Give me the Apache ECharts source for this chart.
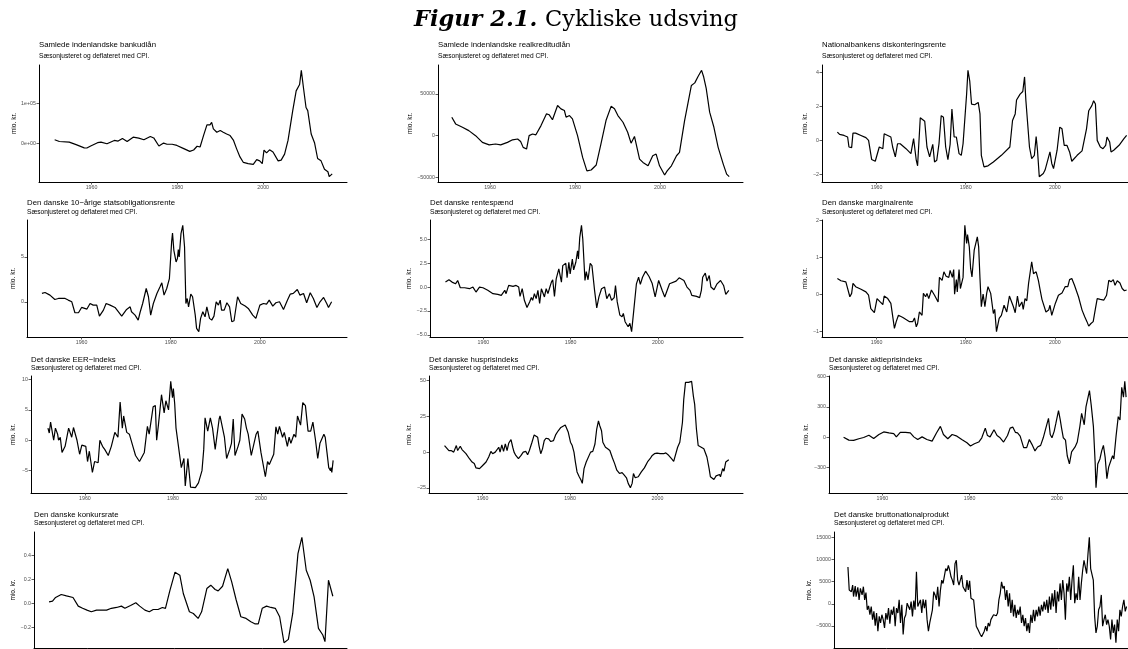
<!DOCTYPE html>
<html>
<head>
<meta charset="utf-8">
<script src="https://cdn.jsdelivr.net/npm/echarts@6/dist/echarts.min.js"></script>
<style>
  html, body { margin: 0; padding: 0; background: #ffffff; }
  #chart { width: 1128px; height: 649px; }
</style>
</head>
<body>
<div id="chart"></div>
<script>
// ---- Series: [year, deviation from trend] ----
const bankudlaan = [[1951.4,8300],[1952.5,4000],[1954.8,2500],[1956.4,-4000],[1958.3,-12000],[1958.9,-12500],[1959.8,-7500],[1961.4,1000],[1962.2,2500],[1963.6,-1700],[1965.3,6700],[1966.2,5000],[1967.2,11700],[1968.3,4000],[1969.7,15000],[1971.0,12500],[1972.2,8300],[1973.7,16700],[1974.5,13000],[1975.7,-7500],[1976.8,0],[1977.6,-3000],[1978.8,-3000],[1979.9,-6000],[1981.5,-14000],[1982.9,-21000],[1983.8,-17500],[1984.6,-8000],[1985.3,-10000],[1986.1,19000],[1986.9,46000],[1987.6,46000],[1988.0,52500],[1988.4,36000],[1989.2,27500],[1990.0,31700],[1990.7,27500],[1991.5,23000],[1992.3,19000],[1993.1,6700],[1993.8,-14000],[1994.6,-35000],[1995.4,-49000],[1996.5,-52000],[1997.7,-54000],[1998.5,-42000],[1999.2,-45000],[1999.8,-52000],[2000.2,-18000],[2000.8,-25000],[2001.5,-17000],[2002.3,-22500],[2003.5,-45000],[2004.2,-43000],[2005.0,-28000],[2005.8,6700],[2006.9,82000],[2007.7,132000],[2008.5,148000],[2008.9,184000],[2009.4,140000],[2010.0,90000],[2010.4,82000],[2011.2,23000],[2012.0,0],[2012.7,-39000],[2013.5,-45000],[2014.3,-66000],[2015.1,-72500],[2015.4,-85000],[2016.1,-78000]];

const realkreditudlaan = [[1951.0,22000],[1951.9,14000],[1953.5,10000],[1955.0,6000],[1956.6,0],[1958.2,-8000],[1959.8,-11000],[1961.3,-10000],[1962.5,-11000],[1962.9,-13000],[1964.1,-8000],[1965.3,-5000],[1966.5,-4000],[1967.2,-7000],[1967.8,-14000],[1968.6,-16000],[1969.2,0],[1970.0,2000],[1970.8,1000],[1972.0,12000],[1973.3,26000],[1973.9,25000],[1974.7,19000],[1975.9,36000],[1976.7,32000],[1977.5,30000],[1977.9,22000],[1978.7,24000],[1979.4,20000],[1980.6,0],[1981.8,-26000],[1982.8,-42000],[1983.8,-41000],[1985.0,-35000],[1986.1,-10000],[1987.3,18000],[1988.5,35000],[1989.3,32000],[1990.1,24000],[1991.3,16000],[1992.4,4000],[1993.2,-9000],[1994.0,-1000],[1995.2,-28000],[1996.0,-32000],[1997.2,-36000],[1998.3,-24000],[1999.1,-22000],[1999.9,-36000],[2001.1,-47000],[2001.7,-42000],[2002.7,-36000],[2003.9,-24000],[2004.6,-20000],[2005.8,18000],[2007.4,60000],[2008.2,63000],[2009.0,71000],[2009.8,78000],[2010.3,70000],[2010.9,56000],[2011.7,28000],[2012.7,10000],[2013.7,-14000],[2014.9,-34000],[2015.7,-46000],[2016.3,-49000]];

const diskontorente = [[1951.2,0.49],[1951.7,0.35],[1952.7,0.29],[1953.5,0.2],[1953.8,-0.39],[1954.4,-0.43],[1954.7,0.43],[1955.3,0.43],[1956.5,0.29],[1957.6,0.16],[1958.2,0],[1958.9,-1.13],[1959.7,-1.23],[1960.6,-0.39],[1961.4,-0.49],[1961.7,0.39],[1962.5,0.29],[1963.2,0.2],[1963.6,-0.39],[1964.2,-0.97],[1964.7,-0.2],[1965.3,-0.2],[1966.6,-0.49],[1967.7,-0.78],[1968.3,0.1],[1968.9,-1.17],[1969.2,-1.5],[1969.8,1.33],[1970.8,1.13],[1971.3,-0.39],[1971.9,-0.97],[1972.3,-1.07],[1972.6,-0.23],[1973.0,-1.27],[1973.5,-1.17],[1974.0,-0.2],[1974.5,1.46],[1975.0,1.36],[1975.5,-0.39],[1976.0,-1.13],[1976.5,-0.23],[1976.9,1.85],[1977.4,0.2],[1977.9,0.2],[1978.5,-0.78],[1979.0,-0.88],[1979.4,-0.2],[1980.2,2.73],[1980.5,4.13],[1980.9,3.5],[1981.3,2.14],[1982.0,2.1],[1982.8,2.24],[1983.2,1.56],[1983.5,-0.88],[1984.1,-1.56],[1985.0,-1.5],[1986.2,-1.27],[1988.0,-0.88],[1989.9,-0.39],[1990.5,1.17],[1991.1,1.56],[1991.4,2.38],[1991.8,2.3],[1992.2,2.73],[1992.8,2.88],[1993.2,3.74],[1993.5,2.34],[1993.8,2.38],[1994.3,-0.39],[1994.8,-1.07],[1995.4,-0.88],[1995.8,0.23],[1996.1,-0.58],[1996.5,-2.14],[1997.4,-1.95],[1997.8,-1.75],[1998.6,-0.97],[1998.9,-0.68],[1999.3,-1.36],[1999.7,-1.66],[2000.5,-0.58],[2001.1,0.78],[2001.6,0.68],[2002.1,-0.29],[2002.7,-0.29],[2003.3,-0.68],[2003.8,-1.23],[2005.0,-0.88],[2006.1,-0.62],[2007.1,0.68],[2007.6,1.75],[2008.3,2.05],[2008.7,2.34],[2009.1,2.14],[2009.5,0],[2010.2,-0.39],[2010.8,-0.49],[2011.4,-0.29],[2011.7,0.2],[2012.3,-0.1],[2012.6,-0.68],[2013.2,-0.58],[2014.4,-0.29],[2015.5,0.1],[2016.1,0.29]];

const obligationsrente = [[1951.1,0.93],[1951.8,1.04],[1952.9,0.74],[1954.0,0.26],[1954.8,0.37],[1955.2,0.56],[1956.3,0.37],[1957.0,0.19],[1957.8,0],[1958.5,-1.22],[1959.3,-1.22],[1960.0,-0.63],[1961.2,-0.81],[1961.9,-0.19],[1962.6,-0.37],[1963.4,-0.37],[1964.0,-1.6],[1964.9,-0.93],[1965.5,-0.19],[1966.4,-0.37],[1967.5,-0.63],[1969.0,-1.6],[1970.1,-0.85],[1970.9,-0.56],[1971.2,-1.11],[1972.0,-1.48],[1972.7,-2.04],[1973.1,-1.22],[1973.7,-0.19],[1974.5,1.48],[1975.0,0.56],[1975.5,-1.48],[1976.1,-0.19],[1976.9,0.93],[1977.6,1.67],[1978.0,2.11],[1978.5,0.74],[1979.1,1.48],[1979.7,2.59],[1980.2,6.67],[1980.4,7.67],[1980.7,5.74],[1981.2,4.44],[1981.5,4.81],[1981.7,5.81],[1981.9,5.0],[1982.3,7.59],[1982.7,8.52],[1983.1,6.11],[1983.4,-0.19],[1983.7,0.37],[1984.0,-0.56],[1984.5,0.85],[1984.9,0.56],[1985.5,-1.48],[1985.8,-2.96],[1986.3,-3.33],[1986.7,-1.85],[1987.2,-1.11],[1987.7,-1.67],[1988.1,-0.56],[1988.7,-1.85],[1989.2,-2.04],[1989.7,-1.6],[1990.2,0],[1990.7,-0.37],[1991.1,0.19],[1991.4,-0.93],[1992.0,-0.93],[1992.6,-0.11],[1993.2,-0.56],[1993.7,-2.22],[1994.2,-2.11],[1995.0,0.56],[1995.7,-0.19],[1996.7,-0.48],[1997.4,-0.74],[1998.4,-1.48],[1999.1,-1.85],[2000.0,-0.37],[2000.8,-0.19],[2001.5,-0.26],[2002.1,0.19],[2002.9,-0.48],[2003.6,-0.11],[2004.4,0],[2005.3,-0.85],[2006.2,0.19],[2006.8,0.85],[2007.5,0.93],[2008.4,1.37],[2009.0,0.74],[2009.8,0.93],[2010.5,-0.11],[2011.3,1.0],[2012.0,0.37],[2012.8,-0.63],[2013.5,0],[2014.3,0.48],[2015.0,-0.19],[2015.4,-0.63],[2016.1,0]];

const rentespaend = [[1951.3,0.52],[1952.1,0.76],[1952.8,0.52],[1953.6,0.34],[1954.1,0.69],[1954.7,-0.07],[1955.7,-0.07],[1956.8,-0.17],[1957.6,0],[1958.3,-0.52],[1959.1,0],[1959.9,-0.07],[1961.0,-0.34],[1962.2,-0.69],[1963.3,-0.76],[1964.1,-0.86],[1964.9,-0.34],[1965.2,-0.69],[1965.8,0.17],[1966.8,0.07],[1967.5,0.17],[1968.1,0],[1968.4,-0.97],[1968.9,-0.17],[1969.4,-1.38],[1970.0,-2.14],[1970.6,-1.55],[1971.0,-1.1],[1971.3,-1.38],[1971.7,-0.69],[1972.1,-1.21],[1972.5,-0.34],[1972.9,-1.72],[1973.3,-0.17],[1973.7,0],[1974.0,-1.03],[1974.4,-0.17],[1974.8,-0.69],[1975.2,-0.07],[1975.6,0.52],[1975.9,0.76],[1976.3,-0.97],[1976.7,0.86],[1977.3,1.9],[1977.9,0.52],[1978.2,2.24],[1978.9,2.48],[1979.2,0.97],[1979.6,2.59],[1979.9,1.38],[1980.4,2.93],[1980.7,1.79],[1981.2,2.59],[1981.6,3.79],[1981.8,2.93],[1982.1,5.17],[1982.5,6.45],[1982.8,5.0],[1983.3,0.69],[1983.6,1.62],[1984.0,0.76],[1984.5,2.48],[1984.9,2.24],[1985.5,-0.34],[1986.0,-2.17],[1986.5,-1.03],[1987.1,-0.17],[1987.4,-0.28],[1987.8,0],[1988.3,-1.21],[1988.9,-0.69],[1989.4,-1.38],[1990.0,-1.1],[1990.3,0.17],[1990.7,-1.55],[1991.3,-2.93],[1991.8,-3.1],[1992.1,-2.76],[1992.5,-3.62],[1992.9,-3.45],[1993.2,-4.14],[1993.6,-3.79],[1994.0,-4.66],[1994.5,-2.41],[1995.1,0.34],[1995.6,1.03],[1996.0,0.28],[1996.5,1.03],[1997.2,1.66],[1998.0,1.1],[1998.7,0.41],[1999.4,-1.03],[2000.2,0.69],[2000.5,0.76],[2001.0,-0.34],[2001.6,-1.03],[2002.7,0.34],[2003.1,0.17],[2004.2,0.62],[2004.9,0.97],[2006.0,0.69],[2006.7,0],[2007.4,-0.34],[2007.8,-0.86],[2008.9,-0.97],[2009.6,-1.1],[2010.0,-0.34],[2010.3,1.03],[2010.9,1.45],[2011.3,0.62],[2011.8,1.21],[2012.2,0],[2012.9,-0.28],[2013.6,0.34],[2014.4,0.69],[2015.1,0.17],[2015.6,-0.76],[2016.3,-0.34]];

const marginalrente = [[1951.2,0.43],[1952.0,0.37],[1953.1,0.34],[1953.5,0.37],[1954.0,-0.06],[1954.4,0.03],[1954.7,0.3],[1955.3,0.21],[1956.5,0.14],[1957.6,0.07],[1958.2,-0.02],[1958.7,-0.38],[1959.5,-0.49],[1960.1,-0.11],[1960.8,-0.2],[1961.4,-0.27],[1961.7,-0.04],[1962.5,-0.11],[1963.2,-0.24],[1964.0,-0.91],[1964.4,-0.73],[1964.5,-0.78],[1964.9,-0.56],[1965.9,-0.62],[1967.4,-0.73],[1968.1,-0.73],[1968.5,-0.63],[1968.9,-0.87],[1969.2,-0.78],[1969.6,-0.47],[1970.2,-0.56],[1970.5,0.03],[1971.0,-0.06],[1971.3,0.03],[1971.7,-0.11],[1972.3,0.12],[1973.0,-0.02],[1973.8,-0.2],[1974.1,0.46],[1974.7,0.38],[1975.1,0.61],[1975.6,0.49],[1976.2,0.46],[1976.5,0.65],[1977.0,0.46],[1977.3,0.67],[1977.5,0.01],[1977.9,0.4],[1978.1,0.07],[1978.5,0.67],[1978.8,0.16],[1979.4,0.46],[1979.8,1.86],[1980.2,1.37],[1980.4,1.61],[1980.8,1.28],[1981.1,0.7],[1981.4,0.47],[1981.9,1.19],[1982.3,1.24],[1982.6,1.55],[1982.9,1.28],[1983.2,0.43],[1983.5,-0.33],[1983.9,0.01],[1984.3,-0.33],[1984.7,0.03],[1985.0,0.21],[1985.6,0.03],[1986.2,-0.51],[1986.5,-0.4],[1986.9,-1.0],[1987.5,-0.64],[1988.0,-0.56],[1988.6,-0.29],[1989.2,-0.47],[1989.8,-0.04],[1990.3,-0.2],[1990.7,-0.33],[1991.1,-0.49],[1991.6,-0.04],[1992.0,-0.33],[1992.6,-0.2],[1992.9,-0.4],[1993.3,-0.11],[1993.7,-0.17],[1994.1,0.3],[1994.4,0.34],[1994.8,0.88],[1995.2,0.56],[1995.8,0.61],[1996.3,0.38],[1996.7,0.12],[1997.1,-0.13],[1997.4,-0.15],[1998.0,-0.47],[1998.6,-0.42],[1998.9,-0.29],[1999.3,-0.56],[2000.1,-0.24],[2000.8,-0.02],[2001.6,0.04],[2002.3,0.21],[2002.9,0.21],[2003.3,0.4],[2003.8,0.43],[2004.4,0.25],[2005.3,-0.06],[2006.1,-0.42],[2006.7,-0.6],[2007.2,-0.73],[2007.6,-0.85],[2008.1,-0.78],[2008.6,-0.73],[2009.1,-0.38],[2009.5,-0.11],[2010.2,-0.13],[2011.0,-0.15],[2011.6,-0.02],[2012.1,0.38],[2012.6,0.34],[2013.1,0.4],[2013.5,0.25],[2014.0,0.37],[2014.6,0.31],[2015.1,0.16],[2015.6,0.1],[2016.1,0.12]];

const eerIndeks = [[1951.6,2.0],[1951.9,1.2],[1952.2,3.0],[1952.9,0],[1953.3,2.0],[1953.8,1.0],[1954.0,0],[1954.4,0.5],[1954.8,-2.0],[1955.5,-1.0],[1956.3,2.0],[1956.7,1.8],[1957.0,0.5],[1957.4,2.1],[1958.2,0],[1958.8,-2.3],[1959.3,-0.8],[1959.7,-0.5],[1960.2,-1.0],[1960.6,-3.5],[1961.0,-1.8],[1961.3,-2.0],[1961.7,-5.3],[1962.2,-3.5],[1963.0,-3.7],[1963.4,0],[1964.0,-1.0],[1964.5,-1.5],[1965.3,-2.5],[1966.0,-1.0],[1966.8,1.3],[1967.5,0.5],[1968.0,6.3],[1968.5,2.0],[1968.8,4.0],[1969.5,1.3],[1970.1,1.0],[1970.9,-1.0],[1971.5,-2.5],[1972.4,-3.5],[1972.7,-3.7],[1973.5,-2.0],[1974.2,2.3],[1974.6,1.0],[1975.5,5.5],[1976.0,5.7],[1976.3,0],[1976.7,2.5],[1977.4,7.5],[1978.0,4.5],[1978.4,6.5],[1979.0,5.0],[1979.5,9.7],[1979.9,7.0],[1980.1,8.5],[1980.4,6.0],[1980.7,2.0],[1981.1,2.0],[1981.9,-4.5],[1982.5,-3.0],[1982.8,-7.5],[1983.4,-3.0],[1984.0,-7.7],[1985.1,-7.8],[1985.8,-7.0],[1986.6,-5.0],[1987.0,-1.5],[1987.3,3.7],[1987.9,1.5],[1988.5,3.7],[1989.0,2.0],[1989.6,-1.5],[1990.5,3.5],[1990.7,4.0],[1991.7,0.5],[1992.2,-3.0],[1992.9,-1.5],[1993.3,-0.5],[1993.7,3.5],[1994.1,-2.5],[1994.8,-1.0],[1995.2,0],[1995.7,4.3],[1996.3,3.5],[1996.7,2.0],[1997.1,1.0],[1997.8,-2.5],[1998.9,1.0],[1999.3,1.5],[2000.0,-2.0],[2001.0,-6.0],[2001.5,-3.5],[2001.9,-4.0],[2002.9,-2.3],[2003.4,2.2],[2003.8,1.0],[2004.2,2.3],[2004.9,0.5],[2005.3,1.3],[2006.0,-1.0],[2006.4,0.5],[2006.8,-0.5],[2007.5,1.0],[2007.9,0.5],[2008.3,4.0],[2009.0,2.5],[2009.5,6.2],[2010.1,5.7],[2010.7,1.5],[2011.3,1.5],[2011.8,3.0],[2012.4,0],[2012.9,-3.0],[2013.4,-0.5],[2013.7,-0.5],[2014.3,1.0],[2014.6,0.5],[2015.0,-2.0],[2015.4,-4.5],[2015.8,-5.0],[2015.9,-4.5],[2016.1,-5.3],[2016.4,-3.3]];

const husprisindeks = [[1951.3,4.6],[1951.7,5.1],[1952.3,1.1],[1952.8,1.1],[1953.4,0],[1954.0,4.6],[1954.3,1.1],[1954.9,4.1],[1955.3,1.8],[1955.6,2.8],[1956.2,-1.1],[1957.0,-4.6],[1957.6,-6.9],[1958.1,-8.0],[1958.5,-11.0],[1959.3,-11.5],[1959.9,-9.7],[1960.2,-9.2],[1960.8,-6.9],[1961.4,-3.4],[1961.9,0.5],[1962.3,-1.1],[1962.9,0],[1963.2,-1.1],[1963.7,3.4],[1964.0,0],[1964.4,5.1],[1964.8,0.5],[1965.2,5.7],[1965.6,1.1],[1966.0,6.4],[1966.5,8.7],[1966.9,3.4],[1967.2,0],[1967.6,-2.3],[1968.2,-4.6],[1968.8,-2.3],[1969.3,0],[1969.9,0.5],[1970.3,-1.8],[1970.7,1.1],[1971.3,6.9],[1971.8,12.0],[1972.2,12.6],[1972.6,10.3],[1972.9,4.6],[1973.3,-1.1],[1973.7,2.3],[1974.1,8.0],[1974.5,9.7],[1975.1,9.2],[1975.6,7.4],[1976.2,8.0],[1976.7,12.0],[1977.3,14.9],[1977.9,17.2],[1978.3,16.1],[1978.9,18.9],[1979.2,19.5],[1979.6,13.8],[1980.1,6.9],[1980.5,4.6],[1980.9,0],[1981.2,-6.4],[1981.6,-13.8],[1982.1,-17.2],[1982.5,-19.5],[1982.8,-21.8],[1983.2,-11.5],[1983.7,-6.9],[1984.1,-6.4],[1984.7,0],[1985.2,0.5],[1985.7,5.7],[1986.1,16.1],[1986.5,21.8],[1986.8,18.4],[1987.2,14.9],[1987.5,6.9],[1988.1,3.4],[1988.6,2.3],[1989.1,1.1],[1989.7,-4.1],[1990.2,-8.0],[1990.7,-12.6],[1991.3,-14.9],[1991.9,-14.3],[1992.4,-16.1],[1992.9,-17.9],[1993.3,-21.8],[1993.8,-24.8],[1994.2,-21.8],[1994.5,-14.9],[1994.9,-17.9],[1995.2,-19.0],[1995.6,-17.2],[1996.3,-13.8],[1997.0,-11.0],[1997.8,-6.4],[1998.3,-4.6],[1998.8,-2.3],[1999.3,-1.1],[1999.9,-0.7],[2000.6,-1.1],[2001.0,-0.5],[2001.4,-1.1],[2001.9,-0.5],[2002.4,-1.8],[2003.2,-4.6],[2003.7,-6.4],[2004.1,-5.7],[2004.6,3.4],[2005.1,6.9],[2005.7,20.7],[2006.0,36.8],[2006.4,48.7],[2006.7,47.8],[2007.1,48.7],[2007.5,48.3],[2007.8,49.4],[2008.2,39.1],[2008.5,33.3],[2008.9,16.1],[2009.3,4.6],[2009.6,4.1],[2010.0,3.4],[2010.6,2.3],[2010.8,3.0],[2011.3,-3.4],[2011.8,-11.5],[2012.1,-17.2],[2012.9,-19.1],[2013.4,-16.6],[2013.7,-17.9],[2014.2,-15.6],[2014.4,-17.2],[2014.9,-11.5],[2015.2,-13.3],[2015.6,-6.9],[2015.9,-7.6],[2016.3,-5.3]];

const aktieprisindeks = [[1951.1,0],[1952.3,-29],[1953.4,-32],[1954.6,-16],[1955.7,-3],[1956.9,19],[1958.0,-13],[1959.2,26],[1960.3,52],[1961.5,42],[1962.6,36],[1963.2,3],[1964.1,48],[1965.3,48],[1966.4,42],[1967.2,3],[1968.1,-23],[1969.1,3],[1970.2,-23],[1971.4,-39],[1972.4,42],[1973.3,107],[1974.0,26],[1975.0,-16],[1976.0,26],[1977.1,10],[1978.2,-23],[1979.4,-55],[1980.2,-87],[1981.1,-65],[1982.1,-48],[1982.8,-6],[1983.6,90],[1984.1,16],[1984.7,3],[1985.6,74],[1986.3,16],[1987.0,-6],[1987.8,-48],[1988.7,16],[1989.3,90],[1989.9,100],[1990.5,48],[1991.0,42],[1991.6,10],[1992.4,-103],[1993.1,-103],[1993.7,-23],[1994.3,-71],[1995.0,-136],[1995.6,-97],[1996.3,-81],[1996.9,-6],[1997.6,107],[1998.1,187],[1998.5,26],[1998.9,-6],[1999.4,58],[1999.8,139],[2000.4,262],[2000.8,171],[2001.1,90],[2001.5,-6],[2002.0,-29],[2002.4,-184],[2002.9,-265],[2003.4,-145],[2004.2,-97],[2004.7,-48],[2005.3,107],[2005.7,236],[2006.1,236],[2006.3,123],[2006.7,300],[2007.5,462],[2007.9,317],[2008.4,107],[2008.8,-249],[2009.0,-500],[2009.4,-265],[2009.9,-216],[2010.3,-136],[2010.7,-81],[2011.1,-200],[2011.5,-410],[2011.9,-297],[2012.4,-233],[2012.8,-184],[2013.1,-216],[2013.6,10],[2014.1,203],[2014.5,171],[2014.9,494],[2015.3,397],[2015.6,553],[2015.9,397]];

const konkursrate = [[1951.2,0.014],[1952.0,0.02],[1952.7,0.05],[1954.0,0.075],[1955.2,0.063],[1956.7,0.05],[1957.9,-0.022],[1958.9,-0.04],[1959.9,-0.055],[1960.9,-0.069],[1962.1,-0.055],[1963.2,-0.055],[1964.4,-0.055],[1965.5,-0.04],[1966.7,-0.033],[1967.8,-0.022],[1968.6,-0.04],[1969.9,-0.017],[1971.1,0.006],[1972.0,-0.022],[1973.2,-0.055],[1974.2,-0.069],[1975.1,-0.05],[1976.2,-0.05],[1977.2,-0.033],[1977.9,-0.04],[1978.9,0.105],[1980.1,0.26],[1981.2,0.235],[1982.0,0.083],[1983.4,-0.069],[1984.3,-0.083],[1985.4,-0.124],[1986.2,-0.069],[1987.4,0.124],[1988.3,0.152],[1989.3,0.116],[1990.0,0.105],[1991.0,0.143],[1992.2,0.29],[1993.1,0.18],[1994.1,0.033],[1995.2,-0.11],[1996.4,-0.124],[1997.5,-0.152],[1998.5,-0.17],[1999.2,-0.17],[2000.1,-0.04],[2001.1,-0.022],[2002.1,-0.033],[2003.1,-0.04],[2004.1,-0.11],[2005.1,-0.326],[2006.1,-0.298],[2007.1,-0.083],[2008.3,0.414],[2009.2,0.55],[2010.2,0.276],[2011.1,0.193],[2012.0,0.055],[2013.0,-0.207],[2014.0,-0.262],[2014.5,-0.317],[2015.3,0.193],[2016.3,0.06]];

const bnp = [[1951.0,8330],[1951.3,3120],[1951.8,2750],[1952.1,4240],[1952.3,1640],[1952.7,4020],[1952.9,1640],[1953.3,3720],[1953.6,890],[1953.9,3500],[1954.3,2010],[1954.6,3870],[1954.9,890],[1955.2,2530],
[1955.50,-1340],[1955.81,-450],[1956.12,-2460],[1956.43,-600],[1956.74,-3570],[1957.05,-1710],[1957.36,-4910],[1957.67,-2080],[1957.98,-6180],[1958.29,-2830],
[1958.60,-4320],[1958.91,-2460],[1959.22,-3570],[1959.53,-5430],[1959.84,-2080],[1960.15,-3570],[1960.46,-970],[1960.77,-4460],[1961.08,-1340],[1961.39,-2460],
[1961.70,-600],[1962.01,-5060],[1962.32,-970],[1962.63,-2080],[1962.94,890],[1963.25,-4320],[1963.56,-220],[1963.87,-6920],[1964.18,-3200],[1964.49,-2460],
[1964.80,150],[1965.11,150],[1965.42,-1340],[1965.73,520],[1966.04,-2830],[1966.35,740],[1966.66,-1340],[1966.97,7220],[1967.28,-600],[1967.59,-220],
[1967.90,890],[1968.21,-2080],[1968.52,1040],[1968.83,-970],[1969.14,890],[1969.45,-3570],[1969.76,-6180],[1970.07,-4320],[1970.38,-4690],[1970.69,-1340],
[1971.00,2750],[1971.31,2010],[1971.62,890],[1971.93,3870],[1972.24,-600],[1972.55,2980],[1972.86,5360],[1973.17,4610],[1973.48,6250],[1973.79,7960],
[1974.10,7440],[1974.41,8700],[1974.72,7590],[1975.03,6100],[1975.34,5360],[1975.65,4240],[1975.96,9080],[1976.27,9820],[1976.58,5360],[1976.89,4240],
[1977.20,4020],[1977.51,6470],[1977.82,3870],[1978.13,3720],[1978.44,2750],[1978.75,5360],[1979.06,3120],[1979.37,5210],[1979.68,1260],[1979.99,1490],
[1980.30,890],[1980.61,1260],[1980.92,-5060],[1981.23,-5650],[1981.54,-5430],[1981.85,-6920],[1982.16,-7440],[1982.47,-7140],[1982.78,-6180],[1983.09,-5060],
[1983.40,-6180],[1983.71,-4320],[1984.02,-5060],[1984.33,-3570],[1984.64,-3570],[1984.95,-2460],[1985.26,-2460],[1985.57,-2680],[1985.88,-2080],[1986.19,890],
[1986.50,2380],[1986.81,4980],[1987.12,3500],[1987.43,4020],[1987.74,890],[1988.05,3120],[1988.36,-600],[1988.67,2380],[1988.98,-2080],[1989.29,890],
[1989.60,-2830],[1989.91,-220],[1990.22,-3200],[1990.53,-1340],[1990.84,-2460],[1991.15,-600],[1991.46,-4320],[1991.77,-2460],[1992.08,-5060],[1992.39,-3200],
[1992.70,-6180],[1993.01,-4320],[1993.32,-6550],[1993.63,-2460],[1993.94,-4320],[1994.25,-1340],[1994.56,-3940],[1994.87,-1340],[1995.18,-2830],[1995.49,-600],
[1995.80,-2680],[1996.11,-220],[1996.42,-1710],[1996.73,520],[1997.04,-1340],[1997.35,890],[1997.66,-2080],[1997.97,1640],[1998.28,-1340],[1998.59,2380],
[1998.90,-600],[1999.21,3120],[1999.52,-2080],[1999.83,2750],[2000.14,520],[2000.45,4610],[2000.76,890],[2001.07,5360],[2001.38,2380],[2001.69,-3570],
[2002.00,4610],[2002.31,2750],[2002.62,6100],[2002.93,890],[2003.24,5360],[2003.55,8700],[2003.86,150],[2004.17,2380],[2004.48,890],[2004.79,6100],
[2005.10,890],[2005.41,4610],[2005.72,7590],[2006.03,9820],[2006.34,10190],[2006.65,6840],[2006.96,11310],[2007.27,15030],[2007.58,7960],[2007.89,8330],
[2008.20,5360],[2008.51,-2830],[2008.82,-6550],[2009.13,-5060],[2009.44,-1340],[2009.75,-600],[2010.06,2010],[2010.37,-5060],[2010.68,-3570],[2010.99,-2460],
[2011.30,-4690],[2011.61,-3570],[2011.92,-5060],[2012.23,-8040],[2012.54,-3570],[2012.85,-6550],[2013.16,-4690],[2013.47,-8780],[2013.78,-3570],[2014.09,-6180],
[2014.40,-1340],[2014.71,-2830],[2015.02,-600],[2015.33,890],[2015.64,-1710],[2015.95,-600]];

// ---- Tick values ----
const xTicks = [1960, 1980, 2000];
const bankTicks = [0, 100000];
const realkreditTicks = [-50000, 0, 50000];
const diskontoTicks = [-2, 0, 2, 4];
const obligationTicks = [0, 5];
const spaendTicks = [-5, -2.5, 0, 2.5, 5];
const marginalTicks = [-1, 0, 1, 2];
const eerTicks = [-5, 0, 5, 10];
const husprisTicks = [-25, 0, 25, 50];
const aktieTicks = [-300, 0, 300, 600];
const konkursTicks = [-0.2, 0, 0.2, 0.4];
const bnpTicks = [-10000, -5000, 0, 5000, 10000, 15000];

// ---- Text ----
const figureLabel = 'Figur 2.1.';
const figureTitle = 'Cykliske udsving';
const subtitleText = 'Sæsonjusteret og deflateret med CPI.';
const yAxisName = 'mio. kr.';

// ---- Label formatters ----
const MINUS = '\u2212';
const plainLabel = v => String(v).replace('-', MINUS);
const yearLabel = v => String(Math.round(v));
const oneDecimal = v => v.toFixed(1).replace('-', MINUS);
const sciLabel = v => {
  const parts = v.toExponential().split('e');
  const exp = parts[1];
  return parts[0] + 'e' + exp[0] + exp.slice(1).padStart(2, '0');
};

const panels = [
  { title: 'Samlede indenlandske bankudlån', data: bankudlaan, ticks: bankTicks, fmt: sciLabel },
  { title: 'Samlede indenlandske realkreditudlån', data: realkreditudlaan, ticks: realkreditTicks, fmt: plainLabel },
  { title: 'Nationalbankens diskonteringsrente', data: diskontorente, ticks: diskontoTicks, fmt: plainLabel },
  { title: 'Den danske 10\u2212årige statsobligationsrente', data: obligationsrente, ticks: obligationTicks, fmt: plainLabel },
  { title: 'Det danske rentespænd', data: rentespaend, ticks: spaendTicks, fmt: oneDecimal },
  { title: 'Den danske marginalrente', data: marginalrente, ticks: marginalTicks, fmt: plainLabel },
  { title: 'Det danske EER\u2212indeks', data: eerIndeks, ticks: eerTicks, fmt: plainLabel },
  { title: 'Det danske husprisindeks', data: husprisindeks, ticks: husprisTicks, fmt: plainLabel },
  { title: 'Det danske aktieprisindeks', data: aktieprisindeks, ticks: aktieTicks, fmt: plainLabel },
  { title: 'Den danske konkursrate', data: konkursrate, ticks: konkursTicks, fmt: oneDecimal },
  { title: 'Det danske bruttonationalprodukt', data: bnp, ticks: bnpTicks, fmt: plainLabel }
];

// Plot-area boxes (px) for each small multiple
const layout = [
  { left: 39,  top: 65,  width: 308, height: 117, nameGap: 20.5, titleY: 45,  subY: 56.5 },
  { left: 438, top: 65,  width: 305, height: 117, nameGap: 18.5, titleY: 45,  subY: 56.5 },
  { left: 822, top: 65,  width: 320, height: 117, nameGap: 9.5,  titleY: 45,  subY: 56.5 },
  { left: 27,  top: 220, width: 320, height: 117, nameGap: 10,   titleY: 203, subY: 212 },
  { left: 430, top: 220, width: 313, height: 117, nameGap: 9,    titleY: 203, subY: 212 },
  { left: 822, top: 220, width: 320, height: 117, nameGap: 9.5,  titleY: 203, subY: 212 },
  { left: 31,  top: 376, width: 316, height: 117, nameGap: 14,   titleY: 360, subY: 368.5 },
  { left: 429, top: 376, width: 314, height: 117, nameGap: 9.5,  titleY: 360, subY: 368.5 },
  { left: 829, top: 376, width: 313, height: 117, nameGap: 13.5, titleY: 360, subY: 368.5 },
  { left: 34,  top: 532, width: 313, height: 116, nameGap: 15.5, titleY: 515, subY: 523.5 },
  { left: 834, top: 532, width: 308, height: 116, nameGap: 20,   titleY: 515, subY: 523.5 }
];

const X_MIN = 1947.75, X_MAX = 2019.55;
const SANS = '"Liberation Sans", Arial, sans-serif';
const SERIF = '"DejaVu Serif", "Liberation Serif", serif';
const expandMin = v => v.min - 0.05 * (v.max - v.min);
const expandMax = v => v.max + 0.05 * (v.max - v.min);

const grids = [], xAxes = [], yAxes = [], series = [], texts = [];
panels.forEach((p, i) => {
  const L = layout[i];
  grids.push({
    left: L.left, top: L.top, width: L.width, height: L.height,
    containLabel: false, outerBoundsMode: 'none'
  });
  xAxes.push({
    gridIndex: i, type: 'value', min: X_MIN, max: X_MAX,
    axisLine: { show: true, onZero: false, lineStyle: { color: '#000', width: 1 } },
    axisTick: { show: true, length: 2.5, customValues: xTicks, lineStyle: { color: '#333', width: 0.8 } },
    axisLabel: { customValues: xTicks, formatter: yearLabel, fontSize: 5.3, color: '#4d4d4d', fontFamily: SANS, margin: 3 },
    splitLine: { show: false }
  });
  yAxes.push({
    gridIndex: i, type: 'value', min: expandMin, max: expandMax,
    name: yAxisName, nameLocation: 'middle', nameGap: L.nameGap,
    nameTextStyle: { fontSize: 6.6, color: '#000', fontFamily: SANS },
    axisLine: { show: true, onZero: false, lineStyle: { color: '#000', width: 1 } },
    axisTick: { show: true, length: 2.5, customValues: p.ticks, lineStyle: { color: '#333', width: 0.8 } },
    axisLabel: { customValues: p.ticks, formatter: p.fmt, fontSize: 5.3, color: '#4d4d4d', fontFamily: SANS, margin: 3 },
    splitLine: { show: false }
  });
  series.push({
    type: 'line', xAxisIndex: i, yAxisIndex: i, data: p.data,
    showSymbol: false, symbol: 'none', silent: true,
    lineStyle: { color: '#000', width: 1.2 }
  });
  texts.push({
    type: 'text', x: L.left, y: L.titleY, silent: true,
    style: { text: p.title, fill: '#000', font: '7.8px ' + SANS, textAlign: 'left', textVerticalAlign: 'middle' }
  });
  texts.push({
    type: 'text', x: L.left, y: L.subY, silent: true,
    style: { text: subtitleText, fill: '#000', font: '6.6px ' + SANS, textAlign: 'left', textVerticalAlign: 'middle' }
  });
});

const chart = echarts.init(document.getElementById('chart'), null, { renderer: 'canvas', width: 1128, height: 649 });
chart.setOption({
  animation: false,
  backgroundColor: '#ffffff',
  title: {
    text: '{b|' + figureLabel + '} {r|' + figureTitle + '}',
    left: 409, top: 4,
    textStyle: {
      fontFamily: SERIF, fontSize: 22.5, color: '#000',
      rich: {
        b: { fontFamily: SERIF, fontSize: 22.5, fontStyle: 'italic', fontWeight: 'bold', color: '#000' },
        r: { fontFamily: SERIF, fontSize: 22.5, fontWeight: 'normal', color: '#000' }
      }
    }
  },
  grid: grids,
  xAxis: xAxes,
  yAxis: yAxes,
  series: series,
  graphic: texts
});
</script>
</body>
</html>
